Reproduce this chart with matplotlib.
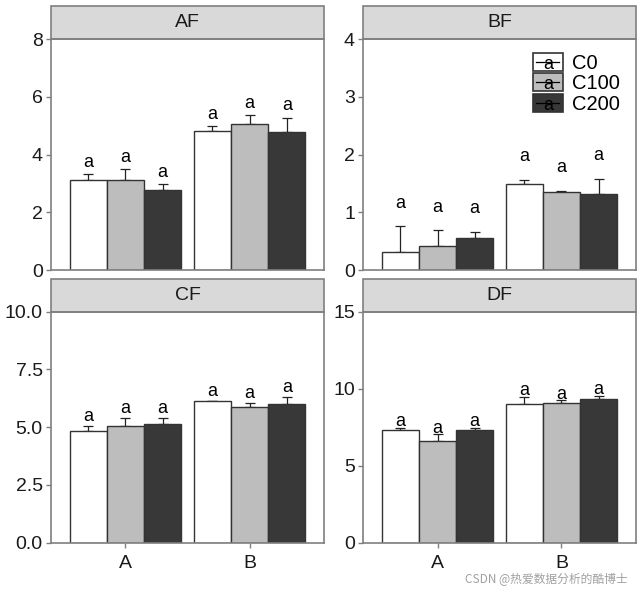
import matplotlib
matplotlib.use("Agg")
import matplotlib.pyplot as plt
import numpy as np
from matplotlib.patches import Rectangle
from matplotlib.lines import Line2D
from matplotlib.text import Text
from matplotlib.legend_handler import HandlerBase

plt.rcParams['font.family'] = ['Liberation Sans', 'DejaVu Sans']

# data
sites = ["A", "B"]
treatments = ["C0", "C100", "C200"]
panels = ["AF", "BF", "CF", "DF"]

af_mean = [[3.11, 3.11, 2.77], [4.82, 5.05, 4.79]]
af_sd = [[0.21, 0.39, 0.21], [0.18, 0.31, 0.49]]
bf_mean = [[0.32, 0.42, 0.55], [1.49, 1.35, 1.32]]
bf_sd = [[0.44, 0.27, 0.11], [0.07, 0.02, 0.26]]
cf_mean = [[4.85, 5.04, 5.14], [6.13, 5.89, 6.00]]
cf_sd = [[0.21, 0.37, 0.27], [0.00, 0.17, 0.32]]
df_mean = [[7.34, 6.62, 7.34], [8.98, 9.07, 9.35]]
df_sd = [[0.13, 0.42, 0.13], [0.50, 0.18, 0.20]]

means = [af_mean, bf_mean, cf_mean, df_mean]
sds = [af_sd, bf_sd, cf_sd, df_sd]
letters = "a"
ymax = [8, 4, 10, 15]
yticks = [[0, 2, 4, 6, 8], [0, 1, 2, 3, 4],
          [0, 2.5, 5.0, 7.5, 10.0], [0, 5, 10, 15]]
ytick_fmt = ["{:.0f}", "{:.0f}", "{:.1f}", "{:.0f}"]

fills = ["#FFFFFF", "#BDBDBD", "#383838"]
edge = "#333333"
frame_col = "#7F7F7F"
label_gap = 0.4


class KeyHandler(HandlerBase):
    def create_artists(self, legend, orig_handle, xdescent, ydescent,
                       width, height, fontsize, trans):
        r = Rectangle((-xdescent, -ydescent), width, height,
                      facecolor=orig_handle.get_facecolor(),
                      edgecolor=edge, linewidth=1.2, transform=trans)
        cy = -ydescent + height / 2
        ln = Line2D([-xdescent + width * 0.12, -xdescent + width * 0.88],
                    [cy, cy], color="black", linewidth=0.9, transform=trans)
        t = Text(-xdescent + width / 2, cy - height * 0.12, "a",
                 ha="center", va="center", fontsize=13, color="black",
                 transform=trans)
        return [r, ln, t]


fig = plt.figure(figsize=(6.43, 5.92), dpi=100)
W, H = 643, 592
boxes = [(51, 39, 273, 231), (363.3, 39, 272.4, 231),
         (51, 311.7, 273, 231), (363.3, 311.7, 272.4, 231)]

x = np.arange(len(sites)) + 1
bw = 0.3
for k, name in enumerate(panels):
    l, t, w, h = boxes[k]
    ax = fig.add_axes([l / W, 1 - (t + h) / H, w / W, h / H])
    m = np.array(means[k])
    s = np.array(sds[k])
    handles = []
    for j in range(len(treatments)):
        xs = x + (j - 1) * bw
        b = ax.bar(xs, m[:, j], width=bw, color=fills[j], edgecolor=edge,
                   linewidth=1.0, zorder=2, label=treatments[j])
        handles.append(b.patches[0])
        ax.errorbar(xs, m[:, j], yerr=[np.zeros(len(sites)), s[:, j]],
                    fmt="none", ecolor="#222222", elinewidth=0.9,
                    capsize=3.6, capthick=0.9, zorder=1)
        for xi, top in zip(xs, m[:, j] + s[:, j]):
            ax.text(xi, top + label_gap, letters, ha="center",
                    va="center", fontsize=13, color="black", zorder=3)
    ax.set_xlim(0.4, 2.6)
    ax.set_ylim(0, ymax[k])
    ax.set_yticks(yticks[k])
    ax.set_yticklabels([ytick_fmt[k].format(v) for v in yticks[k]])
    ax.set_xticks(x)
    ax.tick_params(axis="both", labelsize=14, colors="#7F7F7F",
                   labelcolor="#1A1A1A", length=3.5, width=1, pad=2.5)
    if k >= 2:
        ax.set_xticklabels(sites)
        ax.tick_params(axis="x", pad=5.5)
    else:
        ax.set_xticklabels([])
        ax.tick_params(axis="x", length=0)
    for sp in ax.spines.values():
        sp.set_color(frame_col)
        sp.set_linewidth(1.2)
    # facet strip
    sh = 33 / h
    ax.add_patch(Rectangle((0, 1), 1, sh, transform=ax.transAxes,
                           facecolor="#D9D9D9", edgecolor=frame_col,
                           linewidth=1.2, clip_on=False))
    ax.text(0.5, 1 + sh / 2, name, transform=ax.transAxes, ha="center",
            va="center", fontsize=14, color="#1A1A1A")
    if name == "BF":
        ax.legend(handles=handles, labels=treatments,
                  handler_map={h_: KeyHandler() for h_ in handles},
                  loc="upper left", bbox_to_anchor=(0.622, 0.94),
                  frameon=False, fontsize=14.5, handlelength=1.5,
                  handleheight=1.0, labelspacing=0.03, handletextpad=0.45,
                  borderpad=0, borderaxespad=0)

fig.text(628 / W, 1 - 579 / H, "CSDN @热爱数据分析的酷博士", ha="right",
         va="center", fontsize=8.5, color="#A0A0A0",
         family=["Noto Sans CJK SC", "DejaVu Sans"])

fig.savefig("out.png", dpi=100)
